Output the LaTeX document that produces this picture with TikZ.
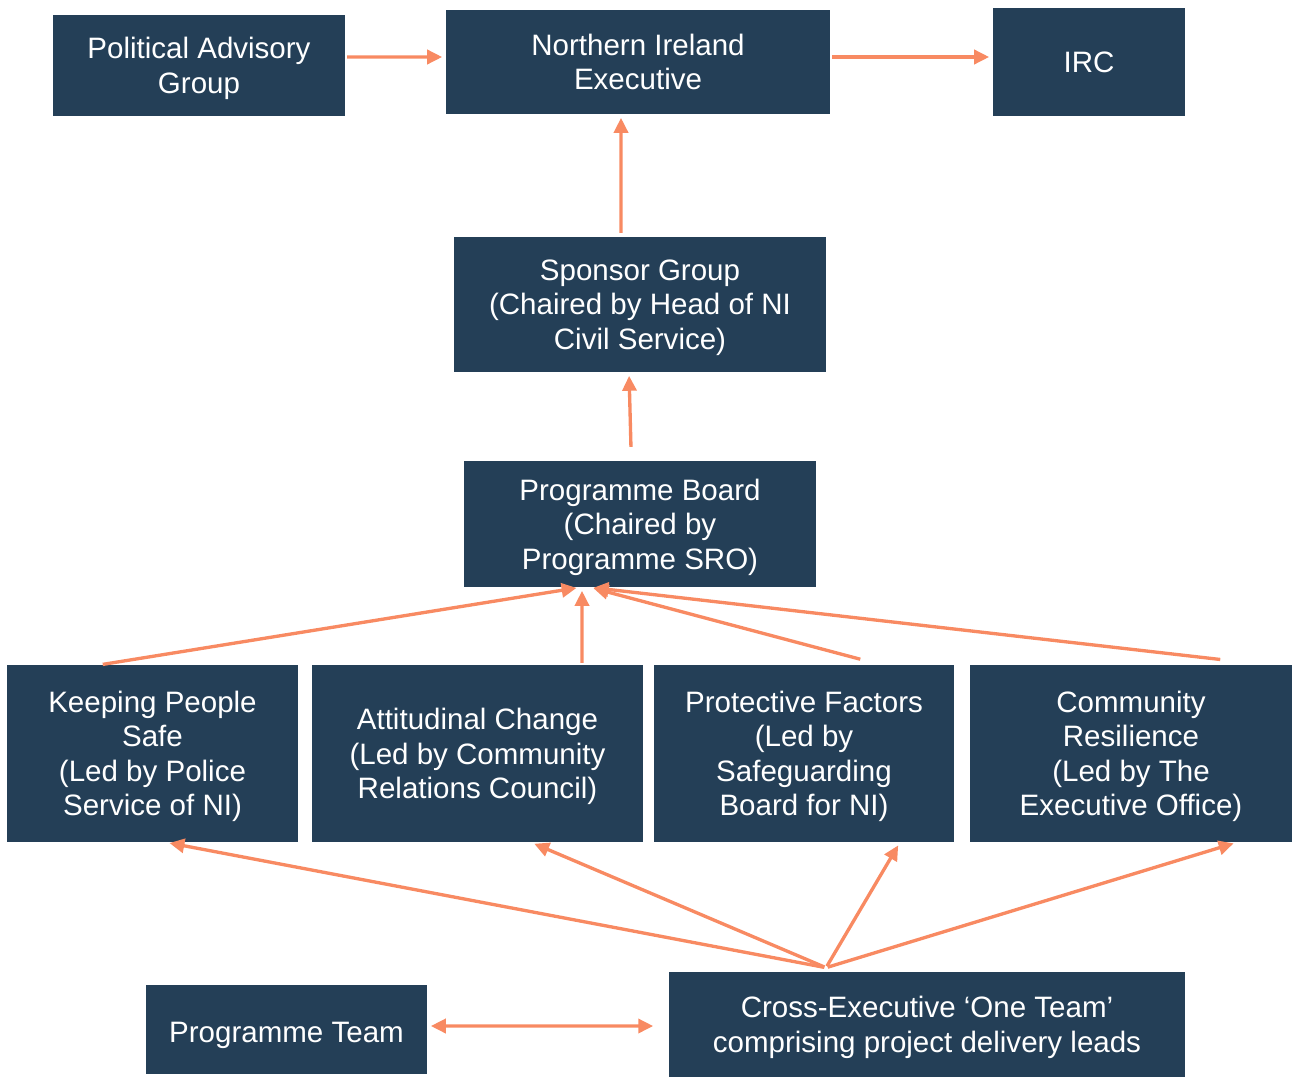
\documentclass[tikz,border=0pt]{standalone}
\usepackage{fontspec}
\setmainfont{Liberation Sans}
\usepackage{xcolor}
\usetikzlibrary{arrows.meta, calc}
\definecolor{boxblue}{HTML}{243F57}
\definecolor{arrorange}{HTML}{F88A62}

\begin{document}
\begin{tikzpicture}[x = 0.02cm, y = -0.02cm,
    box/.style = {fill = boxblue, text = white, align = center, inner sep = 0pt,
        font = \fontsize{16.8}{19.6}\selectfont, text depth = 0pt,
        execute at begin node = {\rule{0pt}{#1}}},
    box/.default = 20pt,
    arr/.style = {draw = arrorange, line width = 1.9pt,
        -{Triangle[length = 8.5pt, width = 8pt]}, shorten > = 2pt, shorten < = 1pt}]
    \useasboundingbox (0,0) rectangle (1293,1078);
    % Vertice
    \node[box, minimum width = 5.84cm, minimum height = 2.02cm] (pag) at (199,65.5) {Political Advisory\\Group};
    \node[box, minimum width = 7.68cm, minimum height = 2.08cm] (nie) at (638,62) {Northern Ireland\\Executive};
    \node[box = 0pt, minimum width = 3.84cm, minimum height = 2.16cm] (irc) at (1089,62) {IRC};
    \node[box, minimum width = 7.44cm, minimum height = 2.70cm] (spon) at (640,304.5) {Sponsor Group\\(Chaired by Head of NI\\Civil Service)};
    \node[box, minimum width = 7.04cm, minimum height = 2.52cm] (pb) at (640,524) {Programme Board\\(Chaired by\\Programme SRO)};
    % Filoni
    \node[box, minimum width = 5.82cm, minimum height = 3.54cm] (kps) at (152.5,753.5) {Keeping People\\Safe\\(Led by Police\\Service of NI)};
    \node[box, minimum width = 6.62cm, minimum height = 3.54cm] (ac) at (477.5,753.5) {Attitudinal Change\\(Led by Community\\Relations Council)};
    \node[box, minimum width = 6.00cm, minimum height = 3.54cm] (pf) at (804,753.5) {Protective Factors\\(Led by\\Safeguarding\\Board for NI)};
    \node[box, minimum width = 6.44cm, minimum height = 3.54cm] (cr) at (1131,753.5) {Community\\Resilience\\(Led by The\\Executive Office)};
    % Base
    \node[box = 15pt, minimum width = 5.62cm, minimum height = 1.78cm] (pt) at (286.5,1029.5) {Programme Team};
    \node[box, minimum width = 10.32cm, minimum height = 2.10cm] (ce) at (927,1024.5) {Cross-Executive ‘One Team’\\comprising project delivery leads};
    % Frecce in alto
    \draw[arr] ([yshift = 0.17cm]pag.east) -- ([yshift = 0.10cm]nie.west);
    \draw[arr] ([yshift = 0.10cm]nie.east) -- ([yshift = 0.10cm]irc.west);
    \draw[arr] ([xshift = -0.38cm, yshift = 0.04cm]spon.north) -- ([xshift = -0.34cm]nie.south);
    \draw[arr] ([xshift = -0.18cm, yshift = 0.24cm]pb.north) -- ([xshift = -0.22cm]spon.south);
    % Filoni -> board
    \draw[arr] ([xshift = -1.03cm]kps.north) -- ([xshift = -1.20cm]pb.south);
    \draw[arr] ([xshift = 2.09cm]ac.north) -- ([xshift = -1.16cm]pb.south);
    \draw[arr] ([xshift = 1.16cm, yshift = 0.1cm]pf.north) -- ([xshift = -1.00cm]pb.south);
    \draw[arr] ([xshift = 1.82cm, yshift = 0.1cm]cr.north) -- ([xshift = -1.00cm]pb.south);
    % One team -> filoni
    \foreach \dst/\dx in {kps/0.27, ac/1.07, pf/1.92, cr/2.12}{
        \draw[arr] ([xshift = -2.02cm, yshift = 0.08cm]ce.north) -- ([xshift = \dx cm]\dst.south);
    }
    \draw[arr, {Triangle[length = 8.5pt, width = 8pt]}-{Triangle[length = 8.5pt, width = 8pt]}, shorten < = 2pt]
        ([yshift = 0.07cm]pt.east) -- ([yshift = -0.03cm, xshift = -0.24cm]ce.west);
\end{tikzpicture}
\end{document}
